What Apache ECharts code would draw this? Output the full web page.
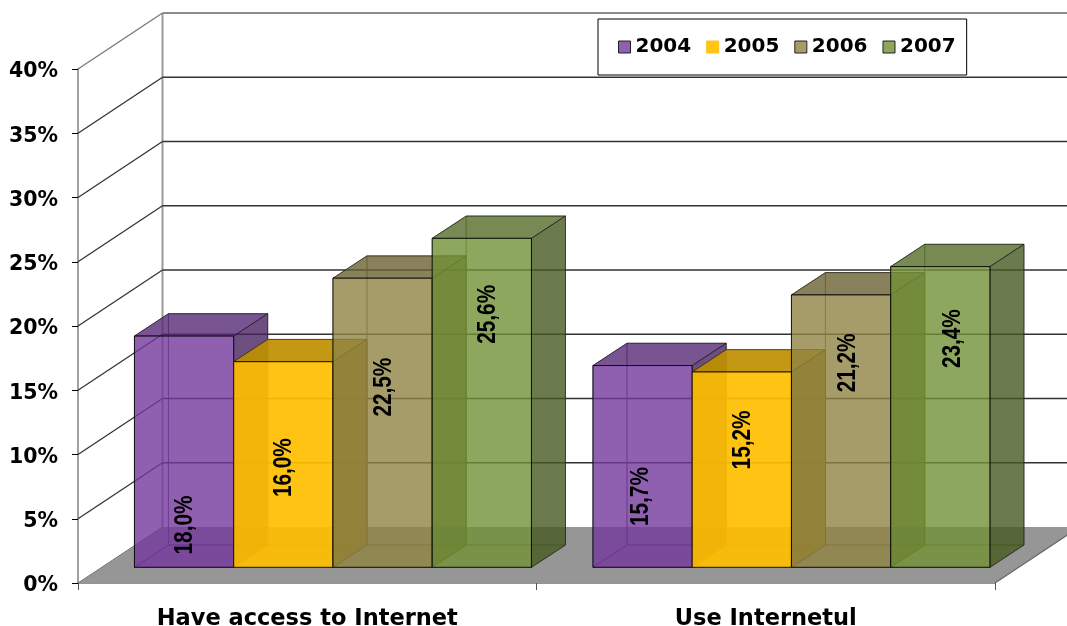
<!DOCTYPE html>
<html><head><meta charset="utf-8">
<style>html,body{margin:0;padding:0;background:#fff}#c{width:1067px;height:626px}</style>
<script src="https://cdn.jsdelivr.net/npm/echarts@6/dist/echarts.min.js"></script>
</head><body><div id="c"></div>
<script>
const categories = ['Have access to Internet', 'Use Internetul'];
const years = ['2004', '2005', '2006', '2007'];
const values2004 = [18.0, 15.7];
const values2005 = [16.0, 15.2];
const values2006 = [22.5, 21.2];
const values2007 = [25.6, 23.4];
const labels2004 = ['18,0%', '15,7%'];
const labels2005 = ['16,0%', '15,2%'];
const labels2006 = ['22,5%', '21,2%'];
const labels2007 = ['25,6%', '23,4%'];
const gridValues = [0, 5, 10, 15, 20, 25, 30, 35, 40];

// layout and style, kept apart from the data
const colors = [[115,55,156],[255,190,0],[142,131,67],[114,145,54]];
const alphas = [0.8, 0.92, 0.8, 0.8];
const legendColors = ['#8f5fb0','#ffc514','#a59c69','#8ea75e'];
const labelDrop = [[189,131],[106,68],[109,68],[76,72]];
const labelShift = [[0,-2],[0,0],[1,6],[5,12]];
const WALL_DX = 84.5, WALL_DY = -56, FRONT_DY = -15.7, DEPTH_DY = -22.3;
const DEPTH_DX = 34, BAR_RATIO = 99.25 / 458.5;
const BOLD = 'DejaVu Sans';
const rgba = (c, k, a) => `rgba(${Math.round(c[0]*k)},${Math.round(c[1]*k)},${Math.round(c[2]*k)},${a})`;

function backdrop(params, api) {
  const cs = params.coordSys, v = api.value(0), y = api.coord([0, v])[1];
  const left = cs.x, right = cs.x + cs.width, kids = [];
  if (v === 0) {
    kids.push({type:'polygon', shape:{points:[[left,y],[left+WALL_DX,y+WALL_DY],[right+WALL_DX,y+WALL_DY],[right,y]]},
      style:{fill:'#969696', stroke:null}});
    kids.push({type:'line', shape:{x1:left+WALL_DX,y1:y+WALL_DY,x2:left+WALL_DX,y2:cs.y+WALL_DY},
      style:{stroke:'#9a9a9a', lineWidth:2}});
    kids.push({type:'line', shape:{x1:right,y1:y,x2:right+WALL_DX,y2:y+WALL_DY}, style:{stroke:'#666', lineWidth:1.2}});
    kids.push({type:'line', shape:{x1:left,y1:y,x2:left+WALL_DX,y2:y+WALL_DY}, style:{stroke:'#777', lineWidth:1}});
  } else {
    const top = v === 40;
    kids.push({type:'line', shape:{x1:left,y1:y,x2:left+WALL_DX,y2:y+WALL_DY}, style:{stroke:top?'#777':'#333', lineWidth:1.3}});
    kids.push({type:'line', shape:{x1:left+WALL_DX,y1:y+WALL_DY,x2:right+WALL_DX,y2:y+WALL_DY},
      style:{stroke:top?'#8c8c8c':'#333', lineWidth:top?2:1.5}});
  }
  return {type:'group', children:kids};
}

function barRenderer(seriesIndex, labels) {
  return function (params, api) {
    const cat = api.value(0), val = api.value(1), c = colors[seriesIndex], a = alphas[seriesIndex];
    const base = api.coord([cat, 0]), topPt = api.coord([cat, val]);
    const w = api.size([1, 0])[0] * BAR_RATIO;
    const fdx = -FRONT_DY * WALL_DX / -WALL_DY;
    const x0 = base[0] + fdx + (seriesIndex - 2) * w + 2, x1 = x0 + w;
    const yb = base[1] + FRONT_DY, yt = topPt[1] + FRONT_DY;
    const bx = DEPTH_DX, by = DEPTH_DY;
    const edge = rgba([0,0,0], 1, 0.85), inner = rgba(c, 0.55, 0.55);
    const poly = (pts, fill, stroke) => ({type:'polygon', shape:{points:pts}, style:{fill, stroke, lineWidth:1}});
    const kids = [
      poly([[x0+bx,yb+by],[x1+bx,yb+by],[x1+bx,yt+by],[x0+bx,yt+by]], 'rgba(0,0,0,0)', inner),
      poly([[x0,yb],[x0+bx,yb+by],[x0+bx,yt+by],[x0,yt]], 'rgba(0,0,0,0)', inner),
      poly([[x0,yb],[x1,yb],[x1+bx,yb+by],[x0+bx,yb+by]], rgba(c,1,0.06), inner),
      poly([[x0,yt],[x1,yt],[x1+bx,yt+by],[x0+bx,yt+by]], rgba(c,0.75,a), 'rgba(30,30,30,0.7)'),
      poly([[x1,yb],[x1+bx,yb+by],[x1+bx,yt+by],[x1,yt]], rgba(c,0.62,a), 'rgba(30,30,30,0.7)'),
      poly([[x0,yb],[x1,yb],[x1,yt],[x0,yt]], rgba(c,1,a), edge),
      {type:'text', x:(x0+x1)/2 + 1 + labelShift[seriesIndex][cat], y:yt + labelDrop[seriesIndex][cat], rotation:Math.PI/2, scaleX:0.83, z2:50,
        style:{text:labels[cat], fill:'#000', font:'bold 25px "Liberation Sans"', textAlign:'center', textVerticalAlign:'middle'}}
    ];
    return {type:'group', children:kids};
  };
}

const allValues = [values2004, values2005, values2006, values2007];
const allLabels = [labels2004, labels2005, labels2006, labels2007];
const chart = echarts.init(document.getElementById('c'), null, {renderer:'canvas', width:1067, height:626});
chart.setOption({
  animation:false,
  grid:{left:78, right:72, top:69, bottom:43, outerBoundsMode:'none'},
  legend:{
    left:598, top:19, orient:'horizontal', selectedMode:false,
    backgroundColor:'#fff', borderColor:'#000', borderWidth:1, padding:[18,11,18,20],
    itemWidth:12, itemHeight:12, itemGap:15, icon:'rect',
    textStyle:{fontFamily:BOLD, fontWeight:'bold', fontSize:20, color:'#000'},
    data: years.map((y,i)=>({name:y, itemStyle:{color:legendColors[i], borderColor:i===1?legendColors[i]:'#222', borderWidth:1}}))
  },
  xAxis:{type:'category', data:categories,
    axisLine:{lineStyle:{color:'#707070', width:1.5}},
    axisTick:{show:true, length:7, lineStyle:{color:'#555'}},
    axisLabel:{fontFamily:BOLD, fontWeight:'bold', fontSize:22.5, color:'#000', margin:25}},
  yAxis:{type:'value', min:0, max:40, interval:5,
    splitLine:{show:false},
    axisLine:{show:true, lineStyle:{color:'#808080', width:1.5}},
    axisTick:{show:true, length:6, lineStyle:{color:'#000'}},
    axisLabel:{formatter:'{value}%', fontFamily:BOLD, fontWeight:'bold', fontSize:20.5, color:'#000', margin:20, verticalAlign:'top', lineHeight:6}},
  series:[
    {type:'custom', name:'walls', z:1, silent:true, renderItem:backdrop, data:gridValues.map(v=>[v]), encode:{y:0}},
    ...years.map((y,i)=>({type:'custom', name:y, z:2, silent:true, itemStyle:{color:legendColors[i]},
      renderItem:barRenderer(i, allLabels[i]),
      data:allValues[i].map((v,k)=>[k,v]), encode:{x:0,y:1}}))
  ]
});
</script></body></html>
